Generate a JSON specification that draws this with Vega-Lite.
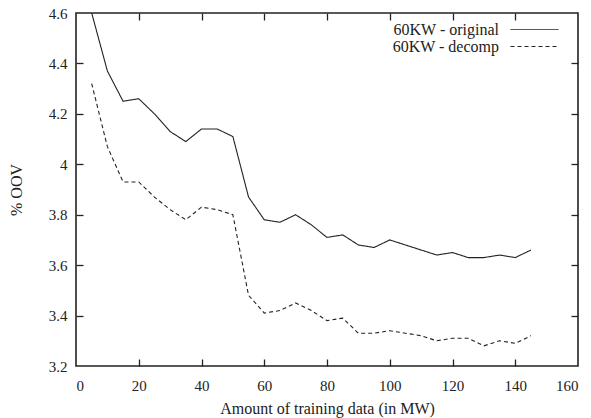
{
  "$schema": "https://vega.github.io/schema/vega-lite/v6.json",
  "width": 502,
  "height": 353,
  "autosize": "none",
  "padding": {"left": 76, "top": 13, "right": 13, "bottom": 52},
  "background": "white",
  "config": {
    "font": "Liberation Serif",
    "view": {"stroke": "#222", "strokeWidth": 1.6},
    "axis": {"grid": false, "domain": false, "tickColor": "#222", "tickWidth": 1.3,
      "labelFont": "Liberation Serif", "labelFontSize": 15, "labelColor": "#222",
      "titleFont": "Liberation Serif", "titleFontSize": 16, "titleFontWeight": "normal", "titleColor": "#222"}
  },
  "data": {"values": [
    {"x": 5, "y": 4.6, "s": "60KW - original"},
    {"x": 10, "y": 4.37, "s": "60KW - original"},
    {"x": 15, "y": 4.25, "s": "60KW - original"},
    {"x": 20, "y": 4.26, "s": "60KW - original"},
    {"x": 25, "y": 4.2, "s": "60KW - original"},
    {"x": 30, "y": 4.13, "s": "60KW - original"},
    {"x": 35, "y": 4.09, "s": "60KW - original"},
    {"x": 40, "y": 4.14, "s": "60KW - original"},
    {"x": 45, "y": 4.14, "s": "60KW - original"},
    {"x": 50, "y": 4.11, "s": "60KW - original"},
    {"x": 55, "y": 3.87, "s": "60KW - original"},
    {"x": 60, "y": 3.78, "s": "60KW - original"},
    {"x": 65, "y": 3.77, "s": "60KW - original"},
    {"x": 70, "y": 3.8, "s": "60KW - original"},
    {"x": 75, "y": 3.76, "s": "60KW - original"},
    {"x": 80, "y": 3.71, "s": "60KW - original"},
    {"x": 85, "y": 3.72, "s": "60KW - original"},
    {"x": 90, "y": 3.68, "s": "60KW - original"},
    {"x": 95, "y": 3.67, "s": "60KW - original"},
    {"x": 100, "y": 3.7, "s": "60KW - original"},
    {"x": 105, "y": 3.68, "s": "60KW - original"},
    {"x": 110, "y": 3.66, "s": "60KW - original"},
    {"x": 115, "y": 3.64, "s": "60KW - original"},
    {"x": 120, "y": 3.65, "s": "60KW - original"},
    {"x": 125, "y": 3.63, "s": "60KW - original"},
    {"x": 130, "y": 3.63, "s": "60KW - original"},
    {"x": 135, "y": 3.64, "s": "60KW - original"},
    {"x": 140, "y": 3.63, "s": "60KW - original"},
    {"x": 145, "y": 3.66, "s": "60KW - original"},
    {"x": 5, "y": 4.32, "s": "60KW - decomp"},
    {"x": 10, "y": 4.07, "s": "60KW - decomp"},
    {"x": 15, "y": 3.93, "s": "60KW - decomp"},
    {"x": 20, "y": 3.93, "s": "60KW - decomp"},
    {"x": 25, "y": 3.87, "s": "60KW - decomp"},
    {"x": 30, "y": 3.82, "s": "60KW - decomp"},
    {"x": 35, "y": 3.78, "s": "60KW - decomp"},
    {"x": 40, "y": 3.83, "s": "60KW - decomp"},
    {"x": 45, "y": 3.82, "s": "60KW - decomp"},
    {"x": 50, "y": 3.8, "s": "60KW - decomp"},
    {"x": 55, "y": 3.48, "s": "60KW - decomp"},
    {"x": 60, "y": 3.41, "s": "60KW - decomp"},
    {"x": 65, "y": 3.42, "s": "60KW - decomp"},
    {"x": 70, "y": 3.45, "s": "60KW - decomp"},
    {"x": 75, "y": 3.42, "s": "60KW - decomp"},
    {"x": 80, "y": 3.38, "s": "60KW - decomp"},
    {"x": 85, "y": 3.39, "s": "60KW - decomp"},
    {"x": 90, "y": 3.33, "s": "60KW - decomp"},
    {"x": 95, "y": 3.33, "s": "60KW - decomp"},
    {"x": 100, "y": 3.34, "s": "60KW - decomp"},
    {"x": 105, "y": 3.33, "s": "60KW - decomp"},
    {"x": 110, "y": 3.32, "s": "60KW - decomp"},
    {"x": 115, "y": 3.3, "s": "60KW - decomp"},
    {"x": 120, "y": 3.31, "s": "60KW - decomp"},
    {"x": 125, "y": 3.31, "s": "60KW - decomp"},
    {"x": 130, "y": 3.28, "s": "60KW - decomp"},
    {"x": 135, "y": 3.3, "s": "60KW - decomp"},
    {"x": 140, "y": 3.29, "s": "60KW - decomp"},
    {"x": 145, "y": 3.32, "s": "60KW - decomp"}
  ]},
  "resolve": {"axis": {"x": "independent", "y": "independent"}},
  "layer": [
    {
      "mark": {"type": "line", "strokeWidth": 1.1, "color": "#222", "clip": true},
      "encoding": {
        "x": {"field": "x", "type": "quantitative", "scale": {"domain": [0, 160], "nice": false},
          "axis": {"orient": "bottom", "values": [0,20,40,60,80,100,120,140,160], "title": "Amount of training data (in MW)", "ticks": false, "labelPadding": 12, "titlePadding": 7}},
        "y": {"field": "y", "type": "quantitative", "scale": {"domain": [3.2, 4.6], "nice": false, "zero": false},
          "axis": {"orient": "left", "values": [3.2,3.4,3.6,3.8,4.0,4.2,4.4,4.6], "format": "~g", "title": "% OOV", "ticks": false, "labelPadding": 9, "titlePadding": 24}},
        "strokeDash": {"field": "s", "type": "nominal",
          "scale": {"domain": ["60KW - original", "60KW - decomp"], "range": [[1, 0], [4, 3]]},
          "legend": {"title": null, "orient": "none", "legendX": 450, "legendY": 8, "symbolType": "M-3,0H3", "symbolSize": 256,
            "symbolStrokeColor": "#222", "symbolStrokeWidth": 1, "labelAlign": "right", "labelOffset": -44,
            "labelFontSize": 16, "labelColor": "#222", "labelFont": "Liberation Serif", "rowPadding": 0, "padding": 0}}
      }
    },
    {
      "mark": {"type": "line", "opacity": 0},
      "encoding": {
        "x": {"field": "x", "type": "quantitative", "axis": {"orient": "bottom", "tickSize": -7, "values": [20,40,60,80,100,120,140], "labels": false, "title": null}},
        "y": {"field": "y", "type": "quantitative", "axis": {"orient": "left", "tickSize": -7, "values": [3.4,3.6,3.8,4.0,4.2,4.4], "labels": false, "title": null}},
        "detail": {"field": "s"}
      }
    },
    {
      "mark": {"type": "line", "opacity": 0},
      "encoding": {
        "x": {"field": "x", "type": "quantitative", "axis": {"orient": "bottom", "offset": -353, "tickSize": 7, "values": [20,40,60,80,100,120,140], "labels": false, "title": null}},
        "y": {"field": "y", "type": "quantitative", "axis": {"orient": "left", "offset": -502, "tickSize": 7, "values": [3.4,3.6,3.8,4.0,4.2,4.4], "labels": false, "title": null}},
        "detail": {"field": "s"}
      }
    }
  ]
}
